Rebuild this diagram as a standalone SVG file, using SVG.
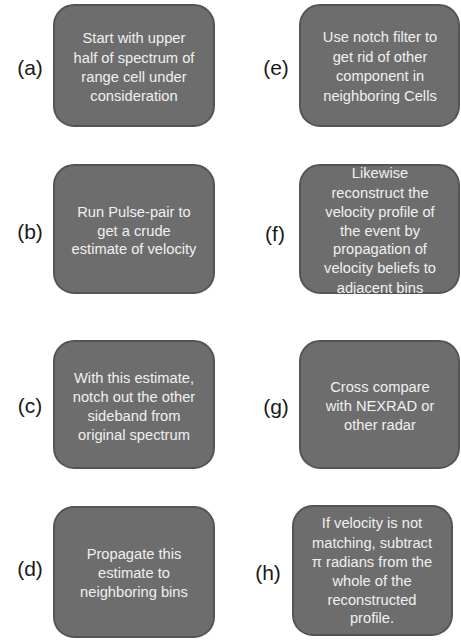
<svg xmlns="http://www.w3.org/2000/svg" width="461" height="642" viewBox="0 0 461 642">
<style>
.box{fill:#6d6d6d;stroke:#555555;stroke-width:2}
.t{font-family:"Liberation Sans",Arial,sans-serif;font-size:14.7px;fill:#f0f0f0;text-anchor:middle}
.lbl{font-family:"Liberation Sans",Arial,sans-serif;font-size:21px;fill:#1a1a1a;text-anchor:middle}
</style>
<rect width="461" height="642" fill="#ffffff"/>
<g id="connectors"></g>
<g id="node-a">
<rect class="box" x="54" y="5" width="160" height="121" rx="20"/>
<text class="lbl" x="30" y="75">(a)</text>
<text class="t" x="134" y="43">Start with upper</text>
<text class="t" x="134" y="63">half of spectrum of</text>
<text class="t" x="134" y="82">range cell under</text>
<text class="t" x="134" y="101">consideration</text>
</g>
<g id="node-b">
<rect class="box" x="54" y="165" width="160" height="128" rx="20"/>
<text class="lbl" x="30" y="239">(b)</text>
<text class="t" x="134" y="217">Run Pulse-pair to</text>
<text class="t" x="134" y="236">get a crude</text>
<text class="t" x="134" y="254">estimate of velocity</text>
</g>
<g id="node-c">
<rect class="box" x="54" y="341" width="160" height="127" rx="20"/>
<text class="lbl" x="30" y="413">(c)</text>
<text class="t" x="134" y="383">With this estimate,</text>
<text class="t" x="134" y="402">notch out the other</text>
<text class="t" x="134" y="421">sideband from</text>
<text class="t" x="134" y="440">original spectrum</text>
</g>
<g id="node-d">
<rect class="box" x="54" y="507" width="160" height="130" rx="20"/>
<text class="lbl" x="30" y="576">(d)</text>
<text class="t" x="134" y="559">Propagate this</text>
<text class="t" x="134" y="578">estimate to</text>
<text class="t" x="134" y="597">neighboring bins</text>
</g>
<g id="node-e">
<rect class="box" x="300" y="5" width="159" height="121" rx="20"/>
<text class="lbl" x="276" y="75">(e)</text>
<text class="t" x="380" y="42">Use notch filter to</text>
<text class="t" x="380" y="62">get rid of other</text>
<text class="t" x="380" y="81">component in</text>
<text class="t" x="380" y="101">neighboring Cells</text>
</g>
<g id="node-f">
<rect class="box" x="300" y="165" width="159" height="128" rx="20"/>
<text class="lbl" x="275" y="241">(f)</text>
<text class="t" x="380" y="178">Likewise</text>
<text class="t" x="380" y="198">reconstruct the</text>
<text class="t" x="380" y="217">velocity profile of</text>
<text class="t" x="380" y="236">the event by</text>
<text class="t" x="380" y="254">propagation of</text>
<text class="t" x="380" y="273">velocity beliefs to</text>
<text class="t" x="380" y="293">adjacent bins</text>
</g>
<g id="node-g">
<rect class="box" x="300" y="341" width="159" height="127" rx="20"/>
<text class="lbl" x="276" y="414">(g)</text>
<text class="t" x="380" y="392">Cross compare</text>
<text class="t" x="380" y="411">with NEXRAD or</text>
<text class="t" x="380" y="430">other radar</text>
</g>
<g id="node-h">
<rect class="box" x="293" y="506" width="159" height="129" rx="20"/>
<text class="lbl" x="268" y="580">(h)</text>
<text class="t" x="372" y="528">If velocity is not</text>
<text class="t" x="372" y="548">matching, subtract</text>
<text class="t" x="372" y="567">π radians from the</text>
<text class="t" x="372" y="586">whole of the</text>
<text class="t" x="372" y="605">reconstructed</text>
<text class="t" x="372" y="623">profile.</text>
</g>
</svg>
